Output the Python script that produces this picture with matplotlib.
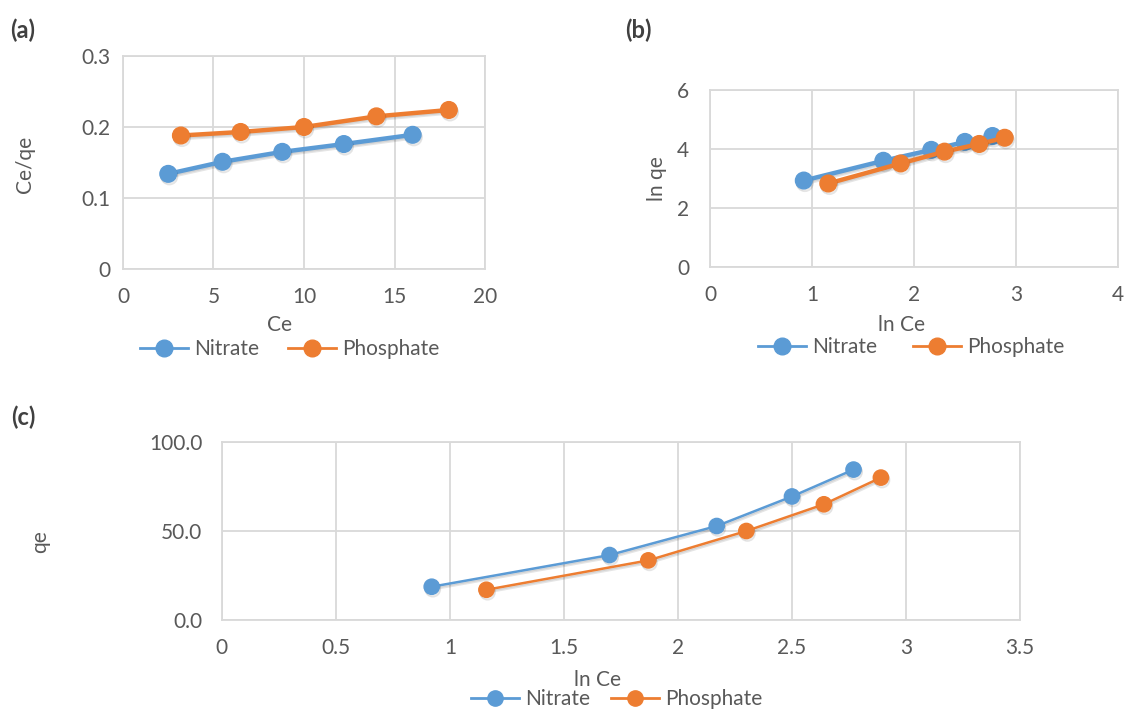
import matplotlib

matplotlib.use("Agg")

import matplotlib.pyplot as plt
import matplotlib.patheffects as pe


# Panel (a): Langmuir plot, Ce vs Ce/qe
nitrate_ce = [2.5, 5.5, 8.8, 12.2, 16.0]
nitrate_ce_qe = [0.134, 0.151, 0.165, 0.176, 0.189]
phosphate_ce = [3.2, 6.5, 10.0, 14.0, 18.0]
phosphate_ce_qe = [0.188, 0.193, 0.200, 0.215, 0.224]

# Panel (b): Freundlich plot, ln Ce vs ln qe
nitrate_ln_ce = [0.92, 1.70, 2.17, 2.50, 2.77]
nitrate_ln_qe = [2.93, 3.60, 3.97, 4.24, 4.44]
phosphate_ln_ce = [1.16, 1.87, 2.30, 2.64, 2.89]
phosphate_ln_qe = [2.83, 3.51, 3.91, 4.17, 4.38]

# Panel (c): Temkin plot, ln Ce vs qe
nitrate_qe = [18.7, 36.5, 52.8, 69.4, 84.5]
phosphate_qe = [17.0, 33.5, 50.0, 65.0, 80.0]

a_xticks = [0, 5, 10, 15, 20]
a_yticks = [0, 0.1, 0.2, 0.3]
a_yticklabels = ["0", "0.1", "0.2", "0.3"]
b_xticks = [0, 1, 2, 3, 4]
b_yticks = [0, 2, 4, 6]
c_xticks = [0, 0.5, 1, 1.5, 2, 2.5, 3, 3.5]
c_xticklabels = ["0", "0.5", "1", "1.5", "2", "2.5", "3", "3.5"]
c_yticks = [0, 50, 100]
c_yticklabels = ["0.0", "50.0", "100.0"]

BLUE = "#5B9BD5"
ORANGE = "#ED7D31"
GRID = "#D9D9D9"
TEXT = "#595959"
FS = 15

plt.rcParams["font.family"] = ["Lato", "DejaVu Sans"]

# soft drop shadow under the series, like the Excel chart style
shadow = [
    pe.SimpleLineShadow(offset=(0.8, -1.8), alpha=0.10, shadow_color="black"),
    pe.SimpleLineShadow(offset=(0.4, -0.9), alpha=0.08, shadow_color="black"),
    pe.Normal(),
]


def style_axes(ax, xticks, yticks, xlim, ylim, ypad):
    ax.set_xlim(*xlim)
    ax.set_ylim(*ylim)
    ax.set_xticks(xticks)
    ax.set_yticks(yticks)
    ax.grid(True, color=GRID, linewidth=1.3)
    ax.set_axisbelow(True)
    for spine in ax.spines.values():
        spine.set_color(GRID)
        spine.set_linewidth(1.3)
    ax.tick_params(length=0, labelsize=FS, colors=TEXT)
    ax.tick_params(axis="x", pad=13)
    ax.tick_params(axis="y", pad=ypad)


def draw_series(ax, x, y, color, label, lw, ms):
    ax.plot(x, y, color=color, linewidth=lw, marker="o", markersize=ms,
            markeredgecolor=color, label=label, path_effects=shadow, clip_on=False)


def place_labels(ax, xlabel, xpos, ylabel, ypos):
    ax.set_xlabel(xlabel, fontsize=FS, color=TEXT)
    ax.xaxis.label.set_va("center")
    ax.xaxis.set_label_coords(*xpos)
    ax.set_ylabel(ylabel, fontsize=FS, color=TEXT)
    ax.yaxis.label.set_va("center")
    ax.yaxis.set_label_coords(*ypos)


def add_legend(ax, anchor, spacing):
    leg = ax.legend(loc="center", bbox_to_anchor=anchor, ncol=2, frameon=False,
                    fontsize=FS, labelcolor=TEXT, handlelength=2.3,
                    columnspacing=spacing, handletextpad=0.3, borderaxespad=0,
                    borderpad=0)
    for line in leg.get_lines():
        line.set_linewidth(2)
        line.set_path_effects([])
    return leg


fig = plt.figure(figsize=(11.44, 7.09), dpi=100)

# (a)
ax_a = fig.add_axes([0.1075, 0.6206, 0.3165, 0.3004])
draw_series(ax_a, nitrate_ce, nitrate_ce_qe, BLUE, "Nitrate", 3.2, 12)
draw_series(ax_a, phosphate_ce, phosphate_ce_qe, ORANGE, "Phosphate", 3.2, 12)
style_axes(ax_a, a_xticks, a_yticks, (0, 20), (0, 0.3), 9)
ax_a.set_yticklabels(a_yticklabels)
place_labels(ax_a, "Ce", (0.431, -0.263), "Ce/qe", (-0.27, 0.49))
add_legend(ax_a, (0.461, -0.376), 1.4)

# (b)
ax_b = fig.add_axes([0.6206, 0.6234, 0.3566, 0.2497])
draw_series(ax_b, nitrate_ln_ce, nitrate_ln_qe, BLUE, "Nitrate", 3.2, 12)
draw_series(ax_b, phosphate_ln_ce, phosphate_ln_qe, ORANGE, "Phosphate", 3.2, 12)
style_axes(ax_b, b_xticks, b_yticks, (0, 4), (0, 6), 15)
place_labels(ax_b, "ln Ce", (0.47, -0.328), "ln qe", (-0.13, 0.50))
add_legend(ax_b, (0.493, -0.452), 1.7)

# (c)
ax_c = fig.add_axes([0.194, 0.1255, 0.6976, 0.2511])
draw_series(ax_c, nitrate_ln_ce, nitrate_qe, BLUE, "Nitrate", 1.8, 11)
draw_series(ax_c, phosphate_ln_ce, phosphate_qe, ORANGE, "Phosphate", 1.8, 11)
style_axes(ax_c, c_xticks, c_yticks, (0, 3.5), (0, 100), 14)
ax_c.set_xticklabels(c_xticklabels)
ax_c.set_yticklabels(c_yticklabels)
place_labels(ax_c, "ln Ce", (0.47, -0.337), "qe", (-0.228, 0.44))
add_legend(ax_c, (0.495, -0.445), 1.0)

fig.text(0.020, 0.957, "(a)", fontsize=17, fontweight="bold", color="#404040",
         ha="center", va="center")
fig.text(0.558, 0.957, "(b)", fontsize=17, fontweight="bold", color="#404040",
         ha="center", va="center")
fig.text(0.020, 0.411, "(c)", fontsize=17, fontweight="bold", color="#404040",
         ha="center", va="center")

fig.savefig("out.png", dpi=100)
